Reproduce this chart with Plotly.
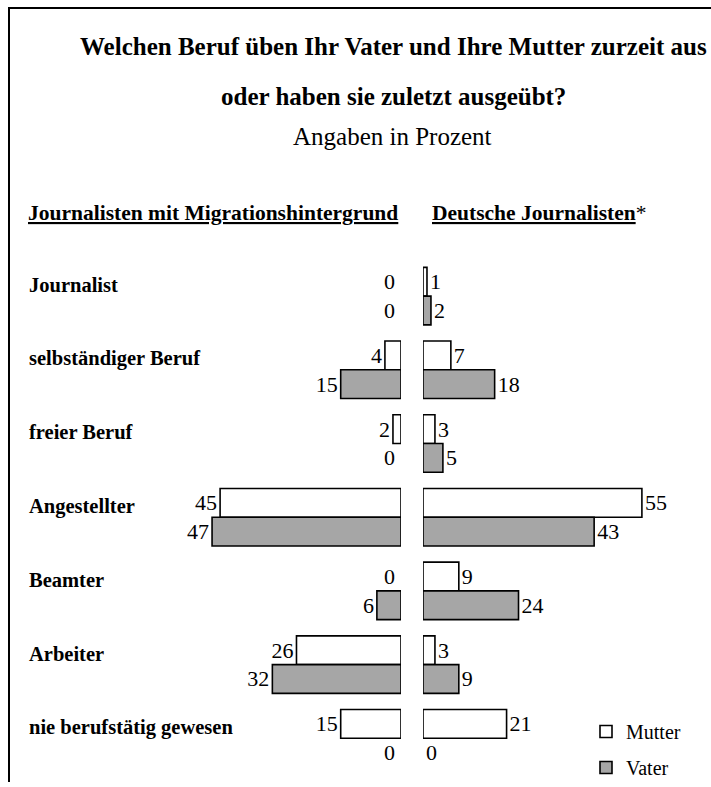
import plotly.graph_objects as go

W, H = 711, 787

categories = ["Journalist", "selbständiger Beruf", "freier Beruf", "Angestellter",
              "Beamter", "Arbeiter", "nie berufstätig gewesen"]
migr_mutter = [0, 4, 2, 45, 0, 26, 15]
migr_vater = [0, 15, 0, 47, 6, 32, 0]
dt_mutter = [1, 7, 3, 55, 9, 3, 21]
dt_vater = [2, 18, 5, 43, 24, 9, 0]

FONT = "Liberation Serif"
GRAY = "#a6a6a6"
BARGAP = 0.22


def px(v):
    return v / W


def py(v):
    return 1 - v / H


fig = go.Figure()


def bar(vals, name, color, axis, showlegend, hide_zero_text):
    txt = [("" if (hide_zero_text and v == 0) else str(v)) for v in vals]
    return go.Bar(
        y=categories, x=vals, name=name, xaxis=axis, yaxis="y",
        orientation="h", text=txt, texttemplate="%{text}", textposition="outside",
        constraintext="none", cliponaxis=False,
        textfont=dict(family=FONT, size=22, color="black"),
        marker=dict(color=color,
                    line=dict(color="black", width=[0 if v == 0 else 1.6 for v in vals])),
        showlegend=showlegend, legendgroup=name,
    )


fig.add_trace(bar(migr_mutter, "Mutter", "white", "x", False, True))
fig.add_trace(bar(migr_vater, "Vater", GRAY, "x", False, True))
fig.add_trace(bar(dt_mutter, "Mutter", "white", "x2", True, False))
fig.add_trace(bar(dt_vater, "Vater", GRAY, "x2", True, False))

first_c, last_c = 298, 743
step = (last_c - first_c) / 6
top_px = first_c - step / 2
bot_px = last_c + step / 2

fig.update_layout(
    width=W, height=H,
    margin=dict(l=0, r=0, t=0, b=0),
    paper_bgcolor="white", plot_bgcolor="white",
    barmode="group", bargap=BARGAP, bargroupgap=0,
    xaxis=dict(domain=[0, px(401)], range=[401 / 4.02, 0], visible=False, anchor="y"),
    xaxis2=dict(domain=[px(423), 1], range=[0, (711 - 423) / 3.98], visible=False, anchor="y"),
    yaxis=dict(domain=[py(bot_px), py(top_px)], type="category",
               categoryorder="array", categoryarray=categories,
               range=[6.5, -0.5], visible=False),
    legend=dict(x=px(586), y=py(717), xanchor="left", yanchor="top",
                font=dict(family=FONT, size=20, color="black"),
                bgcolor="rgba(0,0,0,0)", tracegroupgap=7, itemwidth=30),
    font=dict(family=FONT, color="black"),
)

ann = []
ann.append(dict(text="<b>Welchen Beruf üben Ihr Vater und Ihre Mutter zurzeit aus</b>",
                x=px(393), y=py(47), xref="paper", yref="paper", showarrow=False,
                xanchor="center", yanchor="middle", font=dict(family=FONT, size=25)))
ann.append(dict(text="<b>oder haben sie zuletzt ausgeübt?</b>",
                x=px(393), y=py(97), xref="paper", yref="paper", showarrow=False,
                xanchor="center", yanchor="middle", font=dict(family=FONT, size=25)))
ann.append(dict(text="Angaben in Prozent",
                x=px(392), y=py(137), xref="paper", yref="paper", showarrow=False,
                xanchor="center", yanchor="middle", font=dict(family=FONT, size=25)))
ann.append(dict(text="<b><u>Journalisten mit Migrationshintergrund</u></b>",
                x=px(26), y=py(214), xref="paper", yref="paper", showarrow=False,
                xanchor="left", yanchor="middle", font=dict(family=FONT, size=21.5)))
ann.append(dict(text="<b><u>Deutsche Journalisten</u></b>*",
                x=px(430), y=py(214), xref="paper", yref="paper", showarrow=False,
                xanchor="left", yanchor="middle", font=dict(family=FONT, size=21.5)))
for c in categories:
    ann.append(dict(text="<b>" + c + "</b>", x=px(27), y=c, xref="paper", yref="y",
                    xanchor="left", yanchor="middle", yshift=11, showarrow=False,
                    font=dict(family=FONT, size=20.5)))

# zero labels of the left panel sit just left of the zero line
half = (1 - BARGAP) / 4
for series, off in ((migr_mutter, -half), (migr_vater, half)):
    for i, v in enumerate(series):
        if v == 0:
            ann.append(dict(text=str(v), x=0, y=i + off, xref="x", yref="y",
                            xanchor="right", yanchor="middle", xshift=-4, showarrow=False,
                            font=dict(family=FONT, size=22, color="black")))
fig.update_layout(annotations=ann)

fig.update_layout(shapes=[
    dict(type="line", xref="paper", yref="paper", x0=px(9), x1=px(9), y0=0, y1=py(7),
         line=dict(color="black", width=2)),
    dict(type="line", xref="paper", yref="paper", x0=px(8), x1=1, y0=py(8), y1=py(8),
         line=dict(color="black", width=2)),
])

fig.write_html("out.html", config={"displayModeBar": False},
               post_script="var d=document.getElementById('{plot_id}');"
                           "d.style.position='fixed';d.style.left='0px';d.style.top='0px';"
                           "document.body.style.margin='0';"
                           "document.body.style.overflow='hidden';")
